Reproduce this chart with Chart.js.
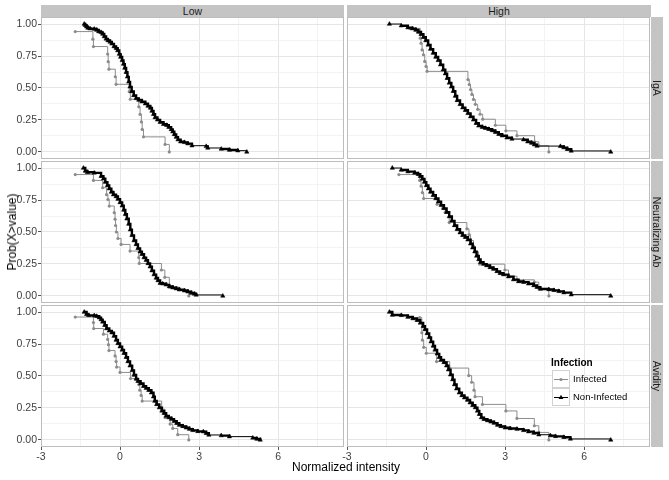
<!DOCTYPE html>
<html lang="en">
<head>
<meta charset="utf-8">
<title>Prob(X>value) by normalized intensity</title>
<script src="https://cdn.jsdelivr.net/npm/chart.js@4"></script>
<style>
  body { margin: 0; background: #fff; }
  #wrap { position: relative; width: 669px; height: 480px; font-family: "Liberation Sans", Arial, sans-serif; }
  #wrap canvas { position: absolute; }
  .strip { position: absolute; background: #c4c4c4; color: #1a1a1a; font-size: 10.5px;
           display: flex; align-items: center; justify-content: center; }
  .strip.side span { transform: rotate(90deg); white-space: nowrap; }
  .axis-title { position: absolute; color: #000; font-size: 12px; white-space: nowrap; }
</style>
</head>
<body>
<div id="wrap"></div>

<script>
// facets, groups and ticks
const columns = ['Low', 'High'];
const rows = ['IgA', 'Neutralizing Ab', 'Avidity'];
const groups = ['Infected', 'Non-Infected'];
const xTickLabels = [-3, 0, 3, 6];
const xMinorLines = [-1.5, 1.5, 4.5, 7.5];
const yTickLabels = [0, 0.25, 0.5, 0.75, 1];
const yMinorLines = [0.125, 0.375, 0.625, 0.875];

// Low / IgA
const lowIgaInfX = [-1.70,-1.03,-1.01,-0.47,-0.45,-0.42,-0.18,-0.15,0.35,0.39,0.71,0.76,0.81,0.84,0.89,1.71,1.87];
const lowIgaInfY = [0.941,0.882,0.824,0.765,0.706,0.647,0.588,0.529,0.471,0.412,0.353,0.294,0.235,0.176,0.118,0.059,0];
const lowIgaNonX = [-1.36,-1.32,-1.27,-1.22,-1.14,-0.98,-0.89,-0.81,-0.72,-0.66,-0.60,-0.53,-0.46,-0.38,-0.31,-0.23,-0.15,-0.09,-0.03,0.02,0.08,0.13,0.18,0.23,0.28,0.33,0.38,0.44,0.52,0.61,0.71,0.83,0.96,1.06,1.15,1.21,1.27,1.33,1.42,1.52,1.65,1.77,1.85,1.94,2.00,2.06,2.13,2.20,2.30,2.44,2.57,2.73,3.27,3.33,3.84,4.15,4.47,4.81];
const lowIgaNonY = [1.000,0.990,0.979,0.969,0.964,0.961,0.953,0.941,0.935,0.922,0.902,0.884,0.871,0.860,0.845,0.824,0.811,0.793,0.765,0.742,0.716,0.687,0.656,0.623,0.587,0.548,0.509,0.473,0.442,0.419,0.406,0.393,0.377,0.359,0.344,0.320,0.295,0.269,0.251,0.233,0.217,0.209,0.194,0.176,0.158,0.137,0.116,0.096,0.080,0.075,0.065,0.049,0.044,0.031,0.023,0.015,0.010,0];

// High / IgA
const highIgaInfX = [-0.62,-0.22,-0.19,-0.15,-0.10,-0.05,0.00,0.04,1.59,1.64,1.69,1.74,1.80,1.87,1.96,2.05,2.15,2.63,3.03,3.45,4.12,4.28,4.66];
const highIgaInfY = [0.966,0.889,0.850,0.798,0.760,0.708,0.669,0.630,0.566,0.527,0.488,0.450,0.411,0.372,0.333,0.295,0.256,0.209,0.165,0.127,0.080,0.049,0];
const highIgaNonX = [-1.39,-0.94,-0.69,-0.52,-0.39,-0.29,-0.19,-0.10,-0.01,0.08,0.17,0.27,0.37,0.46,0.55,0.65,0.73,0.80,0.88,0.96,1.03,1.11,1.18,1.29,1.39,1.49,1.59,1.69,1.80,1.90,2.00,2.13,2.25,2.38,2.51,2.63,2.76,2.89,3.07,3.26,3.70,3.86,4.00,4.11,4.21,5.10,5.23,5.36,5.51,7.01];
const highIgaNonY = [1.000,0.987,0.972,0.964,0.953,0.938,0.920,0.897,0.871,0.837,0.804,0.773,0.742,0.716,0.682,0.643,0.612,0.576,0.540,0.509,0.475,0.437,0.403,0.372,0.346,0.326,0.302,0.276,0.251,0.225,0.204,0.194,0.186,0.178,0.168,0.155,0.139,0.127,0.111,0.101,0.096,0.080,0.070,0.057,0.046,0.044,0.034,0.021,0.008,0];

// Low / Neutralizing Ab
const lowNeutInfX = [-1.70,-1.01,-0.66,-0.51,-0.46,-0.41,-0.22,-0.19,-0.17,-0.14,-0.08,0.04,0.38,0.71,0.73,1.57,1.70,1.87,2.25,2.61];
const lowNeutInfY = [0.949,0.903,0.846,0.792,0.754,0.703,0.651,0.600,0.551,0.500,0.449,0.403,0.351,0.300,0.254,0.203,0.146,0.069,0.049,0];
const lowNeutNonX = [-1.39,-1.32,-1.24,-0.98,-0.72,-0.63,-0.56,-0.48,-0.41,-0.33,-0.25,-0.15,-0.08,0.00,0.08,0.14,0.20,0.26,0.33,0.39,0.45,0.53,0.61,0.68,0.76,0.83,0.91,0.99,1.06,1.14,1.21,1.29,1.37,1.44,1.52,1.62,1.75,1.87,2.00,2.13,2.25,2.44,2.57,2.70,2.82,2.89,3.90];
const lowNeutNonY = [1.000,0.977,0.967,0.962,0.936,0.916,0.890,0.864,0.839,0.813,0.792,0.777,0.757,0.731,0.705,0.672,0.639,0.603,0.562,0.518,0.474,0.433,0.403,0.372,0.346,0.326,0.300,0.280,0.254,0.228,0.198,0.167,0.141,0.121,0.100,0.095,0.087,0.074,0.064,0.057,0.049,0.041,0.033,0.023,0.016,0.008,0];

// High / Neutralizing Ab
const highNeutInfX = [-1.03,-0.24,-0.19,-0.14,-0.09,0.42,0.63,0.73,0.88,1.55,1.63,1.69,1.80,1.86,1.99,2.03,2.99,3.13,3.45,4.11,4.28,4.66];
const highNeutInfY = [0.949,0.903,0.859,0.808,0.762,0.716,0.685,0.654,0.574,0.525,0.479,0.434,0.390,0.346,0.300,0.249,0.203,0.154,0.126,0.108,0.059,0];
const highNeutNonX = [-1.28,-0.94,-0.69,-0.43,-0.30,-0.22,-0.14,-0.06,0.01,0.09,0.17,0.27,0.37,0.47,0.57,0.68,0.78,0.88,0.98,1.08,1.18,1.29,1.39,1.49,1.59,1.69,1.77,1.85,1.92,2.00,2.07,2.18,2.30,2.43,2.56,2.69,2.81,2.94,3.13,3.32,3.51,3.70,3.89,4.09,4.21,4.34,4.66,4.85,5.04,5.23,5.51,7.01];
const highNeutNonY = [1.000,0.985,0.972,0.962,0.951,0.936,0.915,0.890,0.864,0.839,0.813,0.787,0.762,0.736,0.710,0.685,0.654,0.621,0.587,0.551,0.521,0.495,0.474,0.459,0.439,0.408,0.377,0.346,0.313,0.285,0.264,0.249,0.238,0.223,0.210,0.192,0.177,0.167,0.151,0.128,0.113,0.108,0.095,0.082,0.069,0.054,0.051,0.044,0.036,0.026,0.010,0];

// Low / Avidity
const lowAvidInfX = [-1.70,-1.01,-1.00,-0.63,-0.47,-0.44,-0.42,-0.19,-0.15,-0.13,0.00,0.40,0.71,0.75,0.80,0.84,1.58,1.71,1.90,2.00,2.19,2.61];
const lowAvidInfY = [0.961,0.918,0.871,0.827,0.786,0.745,0.699,0.657,0.613,0.570,0.528,0.480,0.433,0.389,0.348,0.304,0.240,0.175,0.124,0.090,0.041,0];
const lowAvidNonX = [-1.36,-1.27,-1.19,-0.98,-0.89,-0.79,-0.72,-0.66,-0.58,-0.51,-0.41,-0.31,-0.23,-0.15,-0.08,0.00,0.08,0.15,0.23,0.30,0.38,0.46,0.53,0.61,0.68,0.78,0.89,0.99,1.09,1.19,1.27,1.32,1.39,1.49,1.59,1.67,1.75,1.85,1.95,2.05,2.15,2.25,2.38,2.51,2.63,2.76,2.95,3.16,3.27,3.37,3.84,4.15,5.04,5.19,5.32];
const lowAvidNonY = [1.000,0.982,0.974,0.972,0.967,0.956,0.941,0.923,0.897,0.871,0.853,0.838,0.812,0.781,0.755,0.729,0.704,0.678,0.647,0.613,0.580,0.544,0.508,0.477,0.459,0.441,0.420,0.405,0.389,0.369,0.338,0.304,0.278,0.253,0.227,0.209,0.188,0.175,0.163,0.147,0.131,0.116,0.106,0.095,0.085,0.075,0.067,0.065,0.052,0.039,0.034,0.026,0.016,0.008,0];

// High / Avidity
const highAvidInfX = [-0.24,-0.16,-0.14,-0.09,0.01,0.40,0.90,1.62,1.73,1.82,1.86,2.14,3.03,3.45,4.11,4.28,4.66];
const highAvidInfY = [0.956,0.838,0.781,0.724,0.678,0.613,0.562,0.503,0.451,0.389,0.338,0.278,0.227,0.168,0.111,0.059,0];
const highAvidNonX = [-1.39,-1.28,-0.94,-0.69,-0.50,-0.34,-0.22,-0.11,-0.04,0.04,0.12,0.19,0.27,0.34,0.42,0.50,0.57,0.68,0.78,0.85,0.93,1.01,1.08,1.16,1.26,1.36,1.46,1.57,1.67,1.77,1.87,1.95,2.02,2.10,2.20,2.33,2.46,2.58,2.71,2.84,3.00,3.19,3.45,3.70,3.89,4.09,4.28,4.72,4.91,5.23,5.48,7.01];
const highAvidNonY = [1.000,0.977,0.974,0.961,0.949,0.936,0.915,0.889,0.864,0.833,0.802,0.768,0.735,0.704,0.673,0.647,0.626,0.606,0.580,0.549,0.510,0.472,0.433,0.400,0.369,0.348,0.330,0.312,0.291,0.271,0.253,0.227,0.201,0.175,0.162,0.152,0.142,0.132,0.116,0.106,0.095,0.090,0.085,0.075,0.065,0.054,0.041,0.034,0.028,0.021,0.008,0];

// [row][column] -> [infected, non-infected]
const panelSeries = [
    [[[lowIgaInfX, lowIgaInfY], [lowIgaNonX, lowIgaNonY]], [[highIgaInfX, highIgaInfY], [highIgaNonX, highIgaNonY]]],
    [[[lowNeutInfX, lowNeutInfY], [lowNeutNonX, lowNeutNonY]], [[highNeutInfX, highNeutInfY], [highNeutNonX, highNeutNonY]]],
    [[[lowAvidInfX, lowAvidInfY], [lowAvidNonX, lowAvidNonY]], [[highAvidInfX, highAvidInfY], [highAvidNonX, highAvidNonY]]]
];

// layout of the facet grid (page pixels)
const FONT = '"Liberation Sans", Arial, sans-serif';
const plotLeft = [41, 347];
const plotW = 303;
const rowTop = [17, 161, 305];
const plotH = 142;
const pad = 10;
const greyCol = '#8c8c8c';

const wrap = document.getElementById('wrap');

function toPoints(xs, ys) {
    return xs.map((x, i) => ({ x: x, y: ys[i] }));
}

const xAll = xTickLabels.concat(xMinorLines).sort((a, b) => a - b);
const yAll = yTickLabels.concat(yMinorLines).sort((a, b) => a - b);

// grey border round each panel
const panelBorder = {
    id: 'panelBorder',
    afterDraw(chart) {
        const a = chart.chartArea, ctx = chart.ctx;
        ctx.save();
        ctx.strokeStyle = '#bdbdbd';
        ctx.lineWidth = 1;
        ctx.strokeRect(a.left + 0.5, a.top + 0.5, a.right - a.left - 1, a.bottom - a.top - 1);
        ctx.restore();
    }
};

function drawMarker(ctx, style, x, y, r, color) {
    ctx.fillStyle = color;
    ctx.beginPath();
    if (style === 'triangle') {
        ctx.moveTo(x, y - r * 1.15);
        ctx.lineTo(x + r, y + r * 0.6);
        ctx.lineTo(x - r, y + r * 0.6);
        ctx.closePath();
    } else {
        ctx.arc(x, y, r, 0, Math.PI * 2);
    }
    ctx.fill();
}

// legend drawn inside the bottom-right panel
const infectionLegend = {
    id: 'infectionLegend',
    afterDraw(chart) {
        const ctx = chart.ctx;
        const ox = plotLeft[1] - pad, oy = rowTop[2] - pad;   // canvas origin in page px
        ctx.save();
        ctx.translate(-ox, -oy);
        ctx.fillStyle = '#000';
        ctx.font = 'bold 10px ' + FONT;
        ctx.textBaseline = 'middle';
        ctx.fillText('Infection', 551, 363);
        const keys = [
            { label: groups[0], color: greyCol, style: 'circle', r: 1.6 },
            { label: groups[1], color: '#000', style: 'triangle', r: 2.4 }
        ];
        keys.forEach((k, i) => {
            const bx = 552, by = 370 + i * 18;
            ctx.fillStyle = '#fff';
            ctx.fillRect(bx, by, 18, 18);
            ctx.strokeStyle = '#d2d2d2';
            ctx.lineWidth = 1;
            ctx.strokeRect(bx + 0.5, by + 0.5, 17, 17);
            ctx.strokeStyle = k.color;
            ctx.beginPath();
            ctx.moveTo(bx + 2, by + 9.5);
            ctx.lineTo(bx + 16, by + 9.5);
            ctx.stroke();
            drawMarker(ctx, k.style, bx + 9, by + 9.5, k.r, k.color);
            ctx.fillStyle = '#000';
            ctx.font = '9.5px ' + FONT;
            ctx.fillText(k.label, 573, by + 9.5);
        });
        ctx.restore();
    }
};

// closely spaced steps of the large group read as a heavy band
function denseWidth(ctx) {
    const d = Math.hypot(ctx.p1.x - ctx.p0.x, ctx.p1.y - ctx.p0.y);
    return d < 9 ? 2.4 : 1;
}

function makePanel(r, c) {
    const yW = c === 0 ? 41 : 10;
    const xH = r === 2 ? 24 : 0;
    const cv = document.createElement('canvas');
    const w = yW + plotW + pad, h = pad + plotH + xH + pad;
    cv.width = w; cv.height = h;
    cv.style.left = (plotLeft[c] - yW) + 'px';
    cv.style.top = (rowTop[r] - pad) + 'px';
    cv.style.width = w + 'px'; cv.style.height = h + 'px';
    wrap.appendChild(cv);

    const [inf, non] = panelSeries[r][c];
    const plugins = [panelBorder];
    if (r === 2 && c === 1) plugins.push(infectionLegend);

    new Chart(cv.getContext('2d'), {
        type: 'scatter',
        data: {
            datasets: [{
                label: groups[0],
                data: toPoints(inf[0], inf[1]),
                showLine: true,
                stepped: 'before',
                borderColor: greyCol,
                borderWidth: 1,
                pointStyle: 'circle',
                pointRadius: 1.6,
                pointBackgroundColor: greyCol,
                pointBorderWidth: 0,
                order: 2
            }, {
                label: groups[1],
                data: toPoints(non[0], non[1]),
                showLine: true,
                stepped: 'before',
                borderColor: '#000',
                borderWidth: 1,
                segment: { borderWidth: denseWidth },
                pointStyle: 'triangle',
                pointRadius: 2.5,
                pointBackgroundColor: '#000',
                pointBorderColor: '#000',
                pointBorderWidth: 0.5,
                order: 1
            }]
        },
        options: {
            responsive: false,
            animation: false,
            events: [],
            layout: { padding: { top: pad, right: pad, bottom: pad, left: 0 } },
            plugins: { legend: { display: false }, tooltip: { enabled: false } },
            scales: {
                x: {
                    type: 'linear',
                    min: -3,
                    max: 8.5,
                    afterBuildTicks: ax => { ax.ticks = xAll.map(v => ({ value: v })); },
                    afterFit: ax => { ax.height = xH; },
                    border: { display: false },
                    grid: {
                        color: ctx => xMinorLines.includes(ctx.tick && ctx.tick.value) ? '#f3f3f3' : '#e6e6e6',
                        drawTicks: r === 2,
                        tickLength: 3,
                        tickColor: ctx => xMinorLines.includes(ctx.tick && ctx.tick.value) ? 'rgba(0,0,0,0)' : '#555'
                    },
                    ticks: {
                        display: r === 2,
                        autoSkip: false,
                        maxRotation: 0,
                        padding: 1,
                        color: '#404040',
                        font: { family: FONT, size: 10.5 },
                        callback: v => xTickLabels.includes(v) ? String(v) : ''
                    }
                },
                y: {
                    type: 'linear',
                    min: -0.055,
                    max: 1.055,
                    afterBuildTicks: ax => { ax.ticks = yAll.map(v => ({ value: v })); },
                    afterFit: ax => { ax.width = yW; },
                    border: { display: false },
                    grid: {
                        color: ctx => yMinorLines.includes(ctx.tick && ctx.tick.value) ? '#f3f3f3' : '#e6e6e6',
                        drawTicks: c === 0,
                        tickLength: 3,
                        tickColor: ctx => yMinorLines.includes(ctx.tick && ctx.tick.value) ? 'rgba(0,0,0,0)' : '#555'
                    },
                    ticks: {
                        display: c === 0,
                        autoSkip: false,
                        padding: 1,
                        color: '#404040',
                        font: { family: FONT, size: 10.5 },
                        callback: v => yTickLabels.includes(v) ? v.toFixed(2) : ''
                    }
                }
            }
        },
        plugins: plugins
    });
}

for (let r = 0; r < rows.length; r++) {
    for (let c = 0; c < columns.length; c++) makePanel(r, c);
}

// facet strips
columns.forEach((name, c) => {
    const d = document.createElement('div');
    d.className = 'strip';
    d.style.left = plotLeft[c] + 'px';
    d.style.top = (rowTop[0] - 12) + 'px';
    d.style.width = (c === 1 ? plotW + 1 : plotW) + 'px';
    d.style.height = '12px';
    d.textContent = name;
    wrap.appendChild(d);
});
rows.forEach((name, r) => {
    const d = document.createElement('div');
    d.className = 'strip side';
    d.style.left = (plotLeft[1] + plotW + 1) + 'px';
    d.style.top = rowTop[r] + 'px';
    d.style.width = '12px';
    d.style.height = plotH + 'px';
    const s = document.createElement('span');
    s.textContent = name;
    d.appendChild(s);
    wrap.appendChild(d);
});

// axis titles
const xt = document.createElement('div');
xt.className = 'axis-title';
xt.textContent = 'Normalized intensity';
xt.style.left = '346px';
xt.style.top = '467px';
xt.style.transform = 'translate(-50%, -50%)';
wrap.appendChild(xt);

const yt = document.createElement('div');
yt.className = 'axis-title';
yt.textContent = 'Prob(X>value)';
yt.style.left = '12px';
yt.style.top = '232px';
yt.style.transform = 'translate(-50%, -50%) rotate(-90deg)';
wrap.appendChild(yt);
</script>
</body>
</html>
